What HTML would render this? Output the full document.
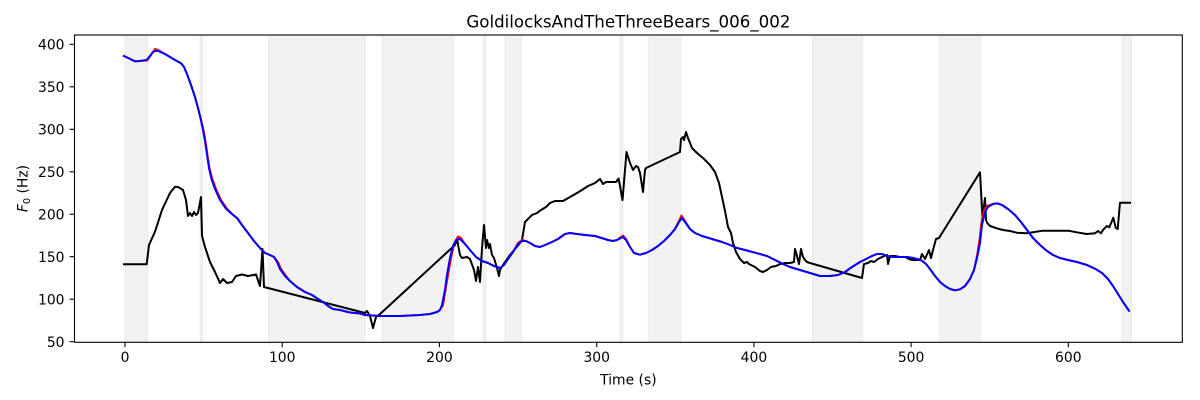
<!DOCTYPE html>
<html><head><meta charset="utf-8"><style>
html,body{margin:0;padding:0;background:#fff;}
svg{display:block;}
text{font-family:"DejaVu Sans","Liberation Sans",sans-serif;fill:#000;}
</style></head><body>
<svg width="1200" height="400" viewBox="0 0 1200 400" xmlns="http://www.w3.org/2000/svg">
<rect x="0" y="0" width="1200" height="400" fill="#fff"/>
<g fill="#808080" fill-opacity="0.1" stroke="#808080" stroke-opacity="0.1" stroke-width="1">
<rect x="125" y="35" width="22.5" height="307.3"/>
<rect x="200" y="35" width="2.8" height="307.3"/>
<rect x="268.4" y="35" width="97" height="307.3"/>
<rect x="382" y="35" width="71.5" height="307.3"/>
<rect x="483" y="35" width="3" height="307.3"/>
<rect x="505" y="35" width="16.5" height="307.3"/>
<rect x="620" y="35" width="2.7" height="307.3"/>
<rect x="648.3" y="35" width="32.4" height="307.3"/>
<rect x="812.3" y="35" width="50.3" height="307.3"/>
<rect x="939.3" y="35" width="41.4" height="307.3"/>
<rect x="1122" y="35" width="9.6" height="307.3"/>
</g>
<g fill="none" stroke-width="2" stroke-linejoin="round" stroke-linecap="square">
<polyline stroke="#000" points="124,264.3 146.7,264.3 149,245 155,231.7 162,210 170,193 175,186.7 178,187 183,190 186,200 188,216 190,213 192,216 194,212 196,215 198,213 201,197 202,236 205,247 210,262 215,272 220,283 223,279 227,283 232,282 236,276 242,274.5 248,276 256,274.5 260,286 262.5,249 264,287 365,313 367,311 370,316 373,328 376,317 380,314 455,245 457,239 460,255 462,258 467,257 470,259 474,270 476,281 478,267 480,282 482,248 484,225 486,248 487,240 489,248 490,244 492,255 494,258 497,268 499,276 500,270 503,265 510,255 520,243 522,240 525,222 528,219 532,215 537,213 541,210 546,207 550,203 555,201 563,201 570,197 577,193 582,190 588,186 595,183 600,179 603,184 606,182 612,182 616,182 618.5,178.5 620,186 622.5,200 626.5,152 630,163 633,170 636,166 638,167 640,173 643,192 645,170 646,168 680,152 681,139 683,137 684,140 686,132 688,138 692,148 697,153 703,158 710,165 715,172 719,183 722,197 725,211 728,227 731,233 733,243 736,252 740,259 744,263 747,262 749,264 755,267 760,271 763,272 767,270 771,267 776,266 780,264 785,263 790,263 794,262 795,249 797,256 799,264 801,249 803,257 805,260 807,262 810,263 862,278 864,264 868,263 871,261 874,262 878,259 882,257 887,255 888,264 890,256 895,256 900,257 905,257 910,259.5 913,260 920,260 922,254 925,259 929,250 931,258 933,250 936,239 939,238 980,172.3 982.5,218 985,198 986,220 987.3,223 990,226 996.7,228.3 1003,230 1010,231 1016.7,232.7 1026.7,233.3 1033,232.3 1043,230.7 1056.7,230.7 1068.3,230.7 1076.7,232.3 1086.7,234 1095,233.3 1098,231 1101,233.3 1103,230 1106.7,226 1109.3,227.3 1113.3,217.7 1115.7,227.7 1117.7,229 1120,202.7 1130,202.7"/>
<polyline stroke="#ff0000" points="124,56 135,61.3 140,61 147,60.5 151,55 155,49 158,50 165,54 175,60 181,63.3 184,67 187,74 191,85 195,97 198,108 201,120 203.5,130 205.5,141 207.5,155 209.5,168 212,178 216,189 221,200 227,208.7 232,214 237,218 242,225 248,233 254,241 260,248 265,253 270,255 274,257 278,262 281,269 286,276 290,281 297,287 305,292 312,295 318,299 323,302 328,306 333,309 340,310 350,312.5 360,313.5 365,315 380,316 400,316 420,315 430,314 437,312 440,310 443,305 445.5,290 448,275 451,258 454,244 458,236.5 461,238 465,244 470,250 476,257 482,261 488,263 494,266 500,268 504,265 508,259 513,252 518,243 522,240 526,241 530,243 535,246 540,247 545,245 552,242 558,239 565,234 570,233 577,234 585,235 595,236 600,237.5 608,240 613,241 617,240 623,235.5 626,239 630,247 634,253 640,254.7 646,253 652,250 658,246 664,241 670,235 675,229 679,221 681.5,215.5 685,221 690,229 695,233 702,236 712,239 722,242 730,245 737,248 745,250 755,252.7 767,256 775,260 783,264 790,267 800,270 810,273 820,276 830,276 838,275 845,272 852,267 860,262 866,259 872,256 877,254 882,254 887,256 893,257 900,257 907,257 913,258 918,259.3 922,260.7 926,264 930,269 935,276 940,282 945,286 950,289 955,290.3 960,289.3 965,286 970,279 974,270 977,256 979.5,240 981.5,222 984,210 987,206 993,204 997,203.3 1002,205 1008,209 1015,215 1021,222 1027,230 1033,238 1040,245 1047,251 1053,255 1060,258 1068,260 1077,262 1087,265 1095,268.7 1102,273 1108,279 1113,286 1118,294 1123,302 1129,310.7"/>
<polyline stroke="#0000ff" points="124,56 135,61.3 140,61 147,59.7 153,52 157,50.5 165,54 175,60 181,63.3 184,67 187,74 191,85 195,97 198,108 201,120 203,130 205,141 207,155 209,168 211.5,179 215,189 220,200 226,208.7 232,214 237,218 242,225 248,233 254,241 260,248 265,253 270,255 274,257 277,262 280,269 285,276 290,281 297,287 305,292 312,295 318,299 323,302 328,306 333,309 340,310 350,312.5 360,313.5 365,315 380,316 400,316 420,315 430,314 437,312 440,310 442,305 445,290 447,275 450,258 453,246 456,240 460,239 465,244 470,250 476,257 482,261 488,263 494,266 500,268 504,265 508,259 513,252 518,244 522,241 526,241 530,243 535,246 540,247 545,245 552,242 558,239 565,234 570,233 577,234 585,235 595,236 600,237.5 608,240 613,241 617,240 623,237 626,240 630,247 634,253 640,254.7 646,253 652,250 658,246 664,241 670,235 675,229 679,222 682,218 685,222 690,229 695,233 702,236 712,239 722,242 730,245 737,248 745,250 755,252.7 767,256 775,260 783,264 790,267 800,270 810,273 820,276 830,276 838,275 845,272 852,267 860,262 866,259 872,256 877,254 882,254 887,256 893,257 900,257 907,257 913,258 918,259.3 922,260.7 926,264 930,269 935,276 940,282 945,286 950,289 955,290.3 960,289.3 965,286 970,279 974,270 977,258 980,243 982,225 985,212 988,207 993,204 997,203.3 1002,205 1008,209 1015,215 1021,222 1027,230 1033,238 1040,245 1047,251 1053,255 1060,258 1068,260 1077,262 1087,265 1095,268.7 1102,273 1108,279 1113,286 1118,294 1123,302 1129,310.7"/>
</g>
<rect x="74.5" y="35" width="1107.8" height="307.3" fill="none" stroke="#000" stroke-width="1.1"/>
<g stroke="#000" stroke-width="1.1">
<line x1="125" y1="342.3" x2="125" y2="347.2"/>
<line x1="282.2" y1="342.3" x2="282.2" y2="347.2"/>
<line x1="439.4" y1="342.3" x2="439.4" y2="347.2"/>
<line x1="596.7" y1="342.3" x2="596.7" y2="347.2"/>
<line x1="753.9" y1="342.3" x2="753.9" y2="347.2"/>
<line x1="911.1" y1="342.3" x2="911.1" y2="347.2"/>
<line x1="1068.3" y1="342.3" x2="1068.3" y2="347.2"/>
<line x1="74.5" y1="341.7" x2="69.6" y2="341.7"/>
<line x1="74.5" y1="299.2" x2="69.6" y2="299.2"/>
<line x1="74.5" y1="256.7" x2="69.6" y2="256.7"/>
<line x1="74.5" y1="214.2" x2="69.6" y2="214.2"/>
<line x1="74.5" y1="171.8" x2="69.6" y2="171.8"/>
<line x1="74.5" y1="129.3" x2="69.6" y2="129.3"/>
<line x1="74.5" y1="86.8" x2="69.6" y2="86.8"/>
<line x1="74.5" y1="44.3" x2="69.6" y2="44.3"/>
</g>
<g font-size="13.9" text-anchor="middle">
<text x="125" y="362">0</text>
<text x="282.2" y="362">100</text>
<text x="439.4" y="362">200</text>
<text x="596.7" y="362">300</text>
<text x="753.9" y="362">400</text>
<text x="911.1" y="362">500</text>
<text x="1068.3" y="362">600</text>
</g>
<g font-size="13.9" text-anchor="end">
<text x="64.5" y="346.8">50</text>
<text x="64.5" y="304.3">100</text>
<text x="64.5" y="261.8">150</text>
<text x="64.5" y="219.3">200</text>
<text x="64.5" y="176.9">250</text>
<text x="64.5" y="134.4">300</text>
<text x="64.5" y="91.9">350</text>
<text x="64.5" y="49.4">400</text>
</g>
<text x="628.4" y="384.3" font-size="13.9" text-anchor="middle">Time (s)</text>
<text x="628.4" y="27.5" font-size="16.67" text-anchor="middle">GoldilocksAndTheThreeBears_006_002</text>
<text transform="translate(27.5,188.5) rotate(-90)" font-size="13.9" text-anchor="middle"><tspan font-style="italic">F</tspan><tspan font-size="9.7" dy="2.5">0</tspan><tspan dy="-2.5"> (Hz)</tspan></text>
</svg>
</body></html>
